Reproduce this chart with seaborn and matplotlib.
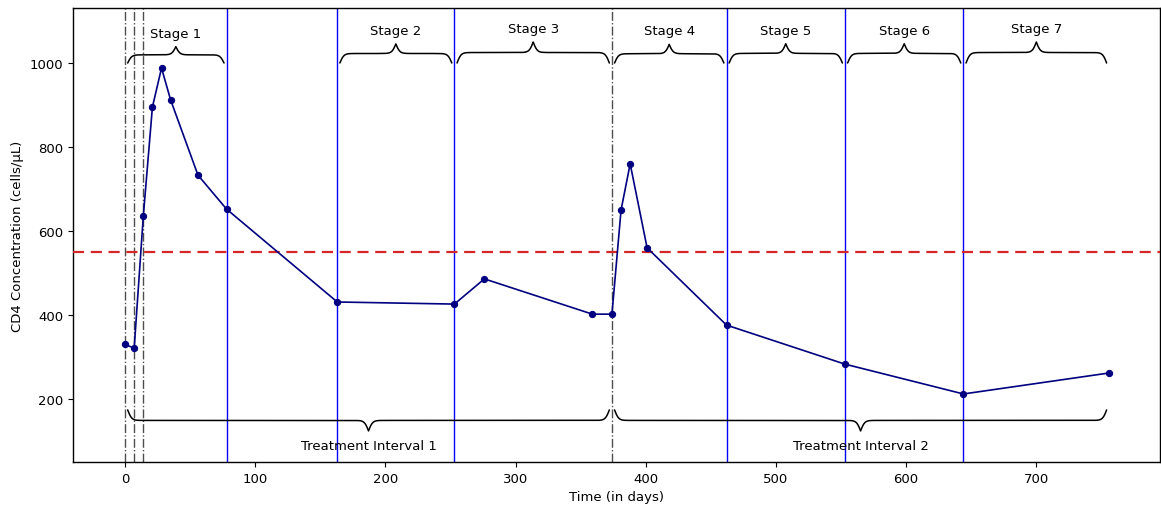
import numpy as np
import pandas as pd
import matplotlib
matplotlib.use("Agg")
import matplotlib.pyplot as plt
import seaborn as sns

# ---- data ----
days = [0, 7, 14, 21, 28, 35, 56, 78, 163, 253, 276, 359, 374, 381, 388, 401, 462, 553, 644, 756]
cd4 = [330, 321, 635, 895, 988, 912, 733, 652, 431, 426, 486, 402, 402, 650, 760, 560, 376, 283, 212, 262]
threshold = 550
dose_days = [0, 7, 14, 374]
stage_bounds = [78, 163, 253, 462, 553, 644]
stage_labels = ["Stage 1", "Stage 2", "Stage 3", "Stage 4", "Stage 5", "Stage 6", "Stage 7"]
stage_start = [0, 163, 253, 374, 462, 553, 644]
stage_end = [78, 253, 374, 462, 553, 644, 756]
interval_labels = ["Treatment Interval 1", "Treatment Interval 2"]
interval_start = [0, 374]
interval_end = [374, 756]

sns.set_style("ticks")
plt.rcParams['font.family'] = ['DejaVu Sans']
plt.rcParams['font.size'] = 9
for k in ['text.color', 'axes.labelcolor', 'xtick.color', 'ytick.color', 'axes.edgecolor']:
    plt.rcParams[k] = 'black'

fig = plt.figure(figsize=(11.61, 5.06), dpi=100)
ax = fig.add_axes([73/1161, 1-463/506, (1160-73)/1161, (463-9)/506])

df = pd.DataFrame({"Time": days, "CD4": cd4})
sns.lineplot(data=df, x="Time", y="CD4", ax=ax, color="navy", lw=1.2,
             marker="o", markersize=4.5, markeredgecolor="navy", zorder=5)

ax.axhline(threshold, color="#d62728", ls="--", lw=1.6, dashes=(5, 3), zorder=3)
for d in dose_days:
    ax.axvline(d, color="0.3", ls="-.", lw=1.0, zorder=2)
for b in stage_bounds:
    ax.axvline(b, color="blue", lw=1.0, zorder=2)

ax.set_xlim(-40, 795)
ax.set_ylim(50, 1131)
ax.set_xticks(range(0, 701, 100))
ax.set_yticks(range(200, 1001, 200))
ax.tick_params(labelsize=9.5)
ax.set_xlabel("Time (in days)", fontsize=9.5)
ax.set_ylabel("CD4 Concentration (cells/μL)", fontsize=9.5)
for s in ax.spines.values():
    s.set_linewidth(1.0)

fig.canvas.draw()
pxd = ax.transData.transform((1, 0))[0] - ax.transData.transform((0, 0))[0]
pyu = ax.transData.transform((0, 1))[1] - ax.transData.transform((0, 0))[1]


def brace(x0, x1, ybase, direction, label, text_gap_px, hmax_px=21):
    width_px = (x1 - x0) * pxd
    h_px = min(0.17 * width_px, hmax_px)
    h = h_px / pyu
    beta = 0.5 * pxd
    n = 801
    x = np.linspace(x0, x1, n)
    half = x[:n // 2 + 1]
    yh = 1 / (1 + np.exp(-beta * (half - half[0]))) + 1 / (1 + np.exp(-beta * (half - half[-1])))
    yh = yh - 0.5
    y = np.concatenate((yh, yh[-2::-1]))
    ax.plot(x, ybase + direction * y * h, color="black", lw=1.1, zorder=4)
    tip = ybase + direction * h
    gap = text_gap_px / pyu
    if direction > 0:
        ax.text((x0 + x1) / 2, tip + gap, label, ha="center", va="bottom", fontsize=9.5)
    else:
        ax.text((x0 + x1) / 2, tip - gap, label, ha="center", va="top", fontsize=9.5)


pad = 2
for s0, s1, lab in zip(stage_start, stage_end, stage_labels):
    brace(s0 + pad, s1 - pad, 1000, 1, lab, 7)
for s0, s1, lab in zip(interval_start, interval_end, interval_labels):
    brace(s0 + pad, s1 - pad, 174, -1, lab, 8)

fig.savefig("out.png", dpi=100)
